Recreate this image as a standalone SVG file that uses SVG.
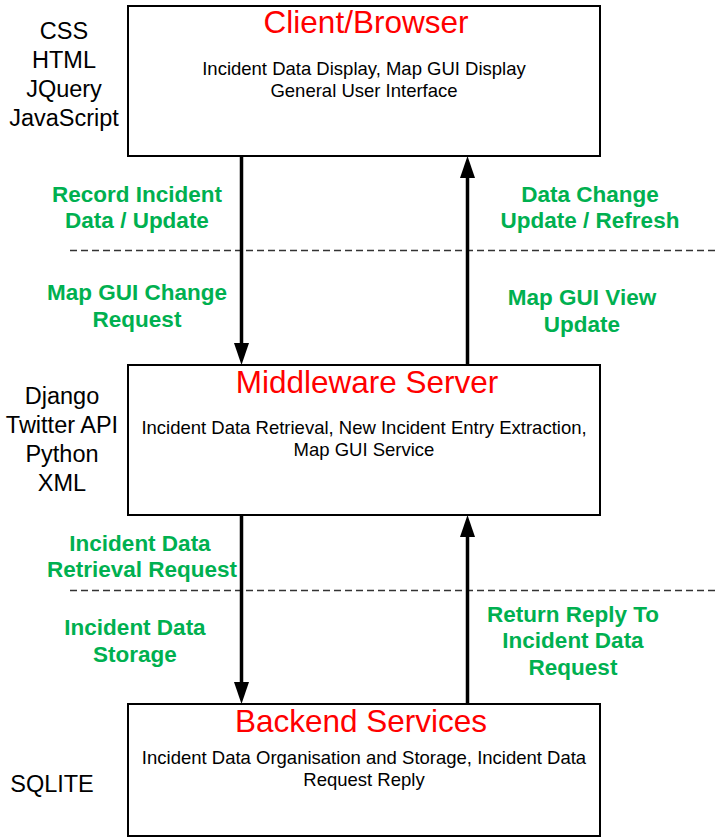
<svg xmlns="http://www.w3.org/2000/svg" width="715" height="838" viewBox="0 0 715 838">
<style>
.box{fill:#fff;stroke:#000;stroke-width:2}
.title{font-family:"Liberation Sans",Arial,sans-serif;font-size:31.5px;fill:#ff0000;text-anchor:middle}
.sub{font-family:"Liberation Sans",Arial,sans-serif;font-size:18.5px;fill:#000;text-anchor:middle}
.tech{font-family:"Liberation Sans",Arial,sans-serif;font-size:23.5px;fill:#000;text-anchor:middle}
.lbl{font-family:"Liberation Sans",Arial,sans-serif;font-size:22.5px;font-weight:bold;fill:#00b050;text-anchor:middle}
.arr{stroke:#000;stroke-width:3.5;fill:none}
.head{fill:#000}
.dash{stroke:#333;stroke-width:1.3;stroke-dasharray:7 4;fill:none}
</style>
<rect width="715" height="838" fill="#fff"/>
<g id="separators">
<line class="dash" x1="70" y1="250.5" x2="715" y2="250.5"/>
<line class="dash" x1="70" y1="590.5" x2="715" y2="590.5"/>
</g>
<g id="client">
<rect class="box" x="128" y="6" width="472" height="150"/>
<text class="title" x="366" y="33">Client/Browser</text>
<text class="sub" x="364" y="75">Incident Data Display, Map GUI Display</text>
<text class="sub" x="364" y="97">General User Interface</text>
</g>
<g id="client-tech">
<text class="tech" x="64" y="39">CSS</text>
<text class="tech" x="64" y="68">HTML</text>
<text class="tech" x="64" y="97">JQuery</text>
<text class="tech" x="64" y="126">JavaScript</text>
</g>
<g id="middleware">
<rect class="box" x="128" y="365" width="472" height="150"/>
<text class="title" x="367" y="393">Middleware Server</text>
<text class="sub" x="364" y="434">Incident Data Retrieval, New Incident Entry Extraction,</text>
<text class="sub" x="364" y="456">Map GUI Service</text>
</g>
<g id="middleware-tech">
<text class="tech" x="62" y="404">Django</text>
<text class="tech" x="62" y="433">Twitter API</text>
<text class="tech" x="62" y="462">Python</text>
<text class="tech" x="62" y="491">XML</text>
</g>
<g id="backend">
<rect class="box" x="128" y="704" width="472" height="132"/>
<text class="title" x="361" y="732">Backend Services</text>
<text class="sub" x="364" y="764">Incident Data Organisation and Storage, Incident Data</text>
<text class="sub" x="364" y="786">Request Reply</text>
</g>
<g id="backend-tech">
<text class="tech" x="52" y="792">SQLITE</text>
</g>
<g id="connectors">
<line class="arr" x1="241.5" y1="156" x2="241.5" y2="345"/>
<polygon class="head" points="234,343 249,343 241.5,365"/>
<line class="arr" x1="467.5" y1="365" x2="467.5" y2="176"/>
<polygon class="head" points="460,178 475,178 467.5,156"/>
<line class="arr" x1="241.5" y1="515" x2="241.5" y2="684"/>
<polygon class="head" points="234,682 249,682 241.5,704"/>
<line class="arr" x1="467.5" y1="704" x2="467.5" y2="535"/>
<polygon class="head" points="460,537 475,537 467.5,515"/>
</g>
<g id="labels">
<text class="lbl" x="137" y="202">Record Incident</text>
<text class="lbl" x="137" y="228">Data / Update</text>
<text class="lbl" x="137" y="300">Map GUI Change</text>
<text class="lbl" x="137" y="327">Request</text>
<text class="lbl" x="590" y="202">Data Change</text>
<text class="lbl" x="590" y="228">Update / Refresh</text>
<text class="lbl" x="582" y="305">Map GUI View</text>
<text class="lbl" x="582" y="332">Update</text>
<text class="lbl" x="140" y="551">Incident Data</text>
<text class="lbl" x="142" y="577">Retrieval Request</text>
<text class="lbl" x="135" y="635">Incident Data</text>
<text class="lbl" x="135" y="662">Storage</text>
<text class="lbl" x="573" y="622">Return Reply To</text>
<text class="lbl" x="573" y="648">Incident Data</text>
<text class="lbl" x="573" y="675">Request</text>
</g>
</svg>
